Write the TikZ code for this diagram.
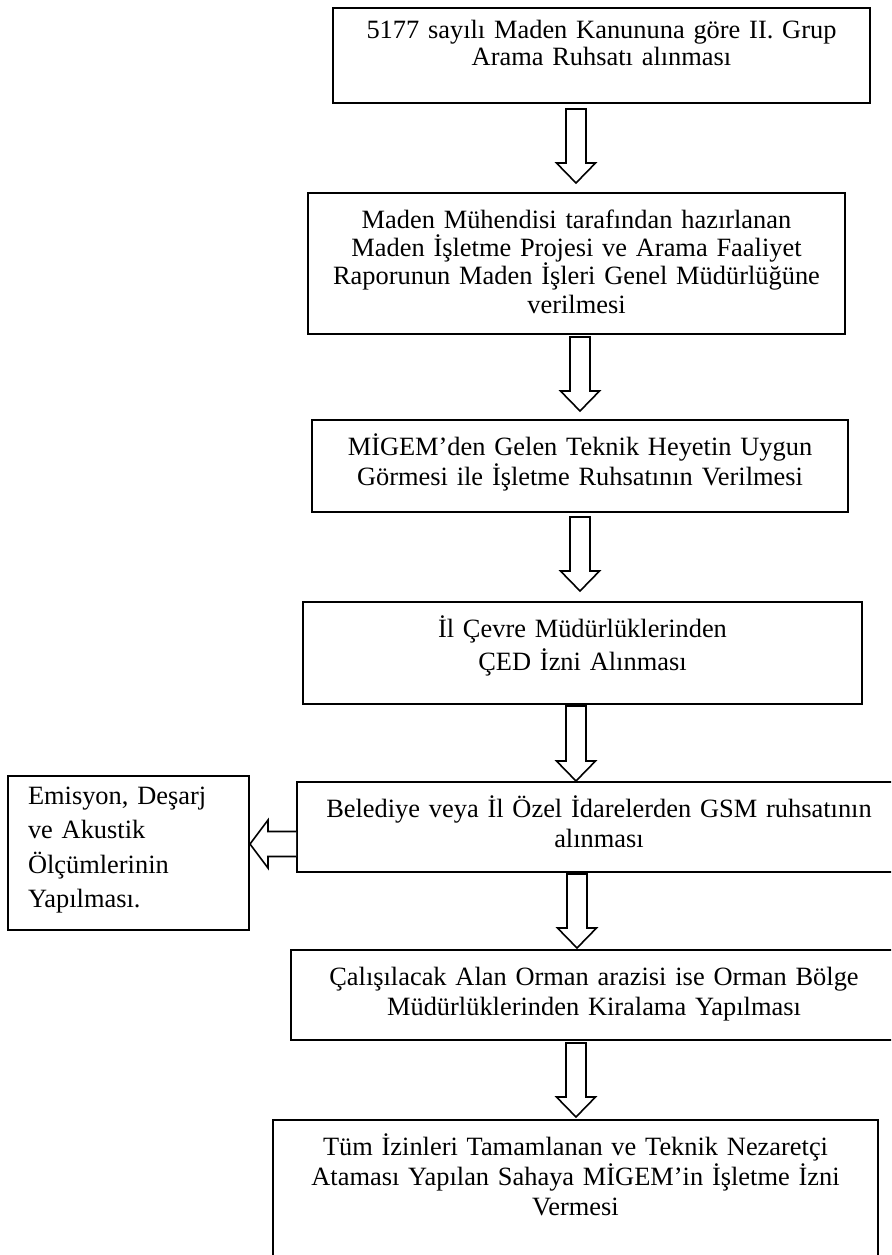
\documentclass[tikz,border=0pt]{standalone}
\usepackage{fontspec}
\setmainfont{Liberation Serif}
\usetikzlibrary{calc}

\tikzset{
  stage/.style={draw, line width=1pt, anchor=north, align=center,
    inner xsep=4pt, inner ysep=2pt, text height=15.5pt,
    font=\fontsize{13.2}{15}\selectfont},
  sidebox/.style={stage, align=left, inner xsep=10pt, text height=12pt,
    font=\fontsize{13.2}{17.3}\selectfont},
  blockarrow/.style={draw, line width=0.8pt, line join=miter, fill=white}
}

% hollow block arrow pointing down, from #1 to tip #2
\newcommand{\blockdown}[2]{%
  \draw[blockarrow] ($(#1)+(-10,0)$) -- ($(#2)+(-10,-20)$) -- ($(#2)+(-19.5,-20)$) -- (#2)
    -- ($(#2)+(19.5,-20)$) -- ($(#2)+(10,-20)$) -- ($(#1)+(10,0)$) -- cycle;}

\begin{document}
\begin{tikzpicture}[x=0.5pt, y=-0.5pt]
  \useasboundingbox (0,0) rectangle (891,1255);
  \clip (0,0) rectangle (891,1255);

  % main steps
  \node[stage, text width=260.5pt, text height=13pt, text depth=30.5pt,
    font=\fontsize{13.2}{13.5}\selectfont] (b1) at (601.5,7)
    {5177 sayılı Maden Kanununa göre II. Grup\\Arama Ruhsatı alınması};
  \node[stage, text width=260.5pt, text depth=51pt,
    font=\fontsize{13.2}{14.2}\selectfont] (b2) at (576.5,192)
    {Maden Mühendisi tarafından hazırlanan\\Maden İşletme Projesi ve Arama Faaliyet\\Raporunun Maden İşleri Genel Müdürlüğüne\\verilmesi};
  \node[stage, text width=260pt, text depth=26.5pt] (b3) at (580,419)
    {MİGEM’den Gelen Teknik Heyetin Uygun\\Görmesi ile İşletme Ruhsatının Verilmesi};
  \node[stage, text width=271.5pt, text depth=31.5pt,
    font=\fontsize{13.2}{16.5}\selectfont] (b4) at (582.5,601)
    {İl Çevre Müdürlüklerinden\\ÇED İzni Alınması};
  \node[stage, text width=294pt, text depth=25.5pt] (b5) at (599,781)
    {Belediye veya İl Özel İdarelerden GSM ruhsatının\\alınması};
  \node[stage, text width=295pt, text depth=25.5pt] (b6) at (594,949)
    {Çalışılacak Alan Orman arazisi ise Orman Bölge\\Müdürlüklerinden Kiralama Yapılması};
  \node[stage, text width=294.5pt, text depth=60.5pt] (b7) at (575.5,1119)
    {Tüm İzinleri Tamamlanan ve Teknik Nezaretçi\\Ataması Yapılan Sahaya MİGEM’in İşletme İzni\\Vermesi};

  % side step
  \node[sidebox, text width=100.5pt, text depth=61pt] (lb) at (128.5,775)
    {Emisyon, Deşarj\\ve Akustik\\Ölçümlerinin\\Yapılması.};

  % down arrows
  \foreach \from/\to/\ax/\gt/\gb in {b1/b2/576/5/9, b2/b3/580/2/8, b3/b4/580/4/10,
      b4/b5/576/1/0, b5/b6/577/1/1, b6/b7/576/2/2}{
    \coordinate (s) at ($(\from.south -| \ax,0)+(0,\gt)$);
    \coordinate (t) at ($(\to.north -| \ax,0)+(0,-\gb)$);
    \blockdown{s}{t}
  }

  % arrow to the side step
  \coordinate (l1) at ($(b5.west)+(0,17)$);
  \coordinate (l1tip) at (lb.east |- l1);
  \draw[blockarrow] ($(l1)+(0,-12.5)$) -- ($(l1tip)+(18,-12.5)$) -- ($(l1tip)+(18,-24)$) -- (l1tip)
    -- ($(l1tip)+(18,24)$) -- ($(l1tip)+(18,12.5)$) -- ($(l1)+(0,12.5)$);
\end{tikzpicture}
\end{document}
